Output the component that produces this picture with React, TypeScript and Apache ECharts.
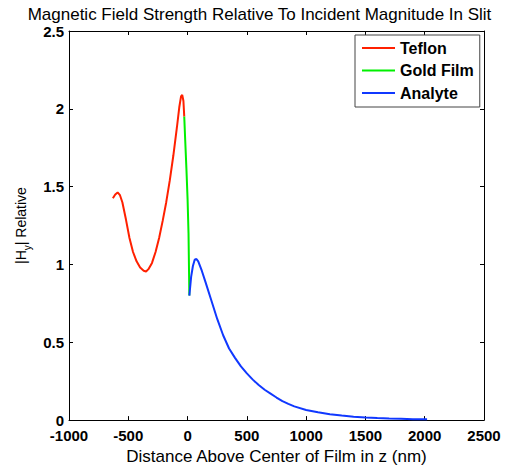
import React, { useEffect, useRef } from "react";
import * as echarts from "echarts";

const xTicks = [-1000, -500, 0, 500, 1000, 1500, 2000, 2500];
const yTicks = [0, 0.5, 1, 1.5, 2, 2.5];

const teflonX = [-630, -610, -590, -570, -550, -520, -490, -460, -430, -400, -370, -350, -330, -300, -270, -240, -210, -180, -150, -120, -90, -70, -55, -45, -35, -28];
const teflonY = [1.425, 1.45, 1.463, 1.445, 1.40, 1.29, 1.17, 1.08, 1.02, 0.98, 0.96, 0.955, 0.97, 1.01, 1.08, 1.17, 1.28, 1.40, 1.54, 1.70, 1.88, 2.01, 2.08, 2.09, 2.05, 1.95];

const goldX = [-28, -20, -10, 0, 8, 15];
const goldY = [1.95, 1.80, 1.62, 1.42, 1.20, 0.80];

const analyteX = [15, 30, 45, 60, 75, 90, 120, 150, 200, 250, 300, 350, 400, 450, 500, 550, 600, 650, 700, 750, 800, 850, 900, 1000, 1100, 1200, 1300, 1400, 1500, 1600, 1700, 1800, 1900, 2000, 2020];
const analyteY = [0.80, 0.92, 0.99, 1.03, 1.035, 1.02, 0.96, 0.89, 0.77, 0.65, 0.545, 0.46, 0.40, 0.345, 0.30, 0.26, 0.225, 0.195, 0.17, 0.145, 0.122, 0.104, 0.088, 0.065, 0.050, 0.038, 0.029, 0.022, 0.017, 0.013, 0.010, 0.008, 0.006, 0.005, 0.005];

const pairs = (xs: number[], ys: number[]) => xs.map((x, i) => [x, ys[i]]);

const FONT = "Liberation Sans, Arial, sans-serif";

export default function App() {
  const ref = useRef<HTMLDivElement>(null);
  useEffect(() => {
    if (!ref.current) return;
    const chart = echarts.init(ref.current, null, { renderer: "svg" });
    const axisCommon = {
      axisLine: { show: true, onZero: false, lineStyle: { color: "#000", width: 1 } },
      axisTick: { show: true, inside: true, length: 4, lineStyle: { color: "#000" } },
      splitLine: { show: false },
    };
    chart.setOption({
      animation: false,
      backgroundColor: "#fff",
      title: {
        text: "Magnetic Field Strength Relative To Incident Magnitude In Slit",
        left: "center",
        top: 1,
        textStyle: { fontFamily: FONT, fontSize: 17, fontWeight: "normal", color: "#000" },
      },
      grid: { left: 69, right: 35, top: 31, bottom: 46 },
      legend: {
        orient: "vertical",
        left: 355,
        top: 35,
        padding: [5, 6, 6, 7],
        itemGap: 6.5,
        itemWidth: 33,
        itemHeight: 2,
        icon: "rect",
        backgroundColor: "#fff",
        borderColor: "#444",
        borderWidth: 1,
        textStyle: { fontFamily: FONT, fontSize: 16, lineHeight: 16, fontWeight: "bold", color: "#000" },
        data: ["Teflon", "Gold Film", "Analyte"],
      },
      xAxis: [
        {
          type: "value",
          min: -1000,
          max: 2500,
          interval: 500,
          ...axisCommon,
          axisLabel: { color: "#000", fontFamily: FONT, fontSize: 15, fontWeight: "bold", margin: 8, formatter: (v: number) => (xTicks.includes(v) ? String(v) : "") },
          name: "Distance Above Center of Film in z (nm)",
          nameLocation: "middle",
          nameGap: 23,
          nameTextStyle: { color: "#000", fontFamily: FONT, fontSize: 17 },
        },
        {
          type: "value",
          position: "top",
          min: -1000,
          max: 2500,
          interval: 500,
          ...axisCommon,
          axisLabel: { show: false },
        },
      ],
      yAxis: [
        {
          type: "value",
          min: 0,
          max: 2.5,
          interval: 0.5,
          ...axisCommon,
          axisLabel: { color: "#000", fontFamily: FONT, fontSize: 15, fontWeight: "bold", margin: 5, formatter: (v: number) => (yTicks.includes(v) ? String(v) : "") },
          name: "{n||H}{sub|y}{n|| Relative}",
          nameLocation: "middle",
          nameGap: 30,
          nameRotate: 90,
          nameTextStyle: {
            color: "#000",
            fontFamily: FONT,
            fontSize: 14,
            rich: {
              n: { fontFamily: FONT, fontSize: 14, color: "#000", lineHeight: 22 },
              sub: { fontFamily: FONT, fontSize: 10, color: "#000", verticalAlign: "bottom", lineHeight: 22 },
            },
          },
        },
        {
          type: "value",
          position: "right",
          min: 0,
          max: 2.5,
          interval: 0.5,
          ...axisCommon,
          axisLabel: { show: false },
        },
      ],
      series: [
        {
          name: "Teflon",
          type: "line",
          symbol: "none",
          data: pairs(teflonX, teflonY),
          lineStyle: { color: "#ff2000", width: 2 },
          itemStyle: { color: "#ff2000" },
        },
        {
          name: "Gold Film",
          type: "line",
          symbol: "none",
          data: pairs(goldX, goldY),
          lineStyle: { color: "#00f000", width: 2 },
          itemStyle: { color: "#00f000" },
        },
        {
          name: "Analyte",
          type: "line",
          symbol: "none",
          data: pairs(analyteX, analyteY),
          lineStyle: { color: "#1038ff", width: 2 },
          itemStyle: { color: "#1038ff" },
        },
      ],
    });
    return () => chart.dispose();
  }, []);
  return <div ref={ref} style={{ width: 519, height: 470, position: "absolute", left: 0, top: 0 }} />;
}
